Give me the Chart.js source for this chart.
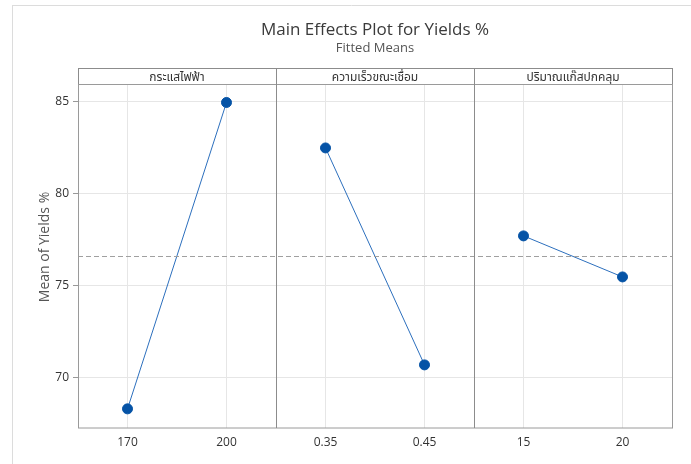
<!DOCTYPE html>
<html>
<head>
<meta charset="utf-8">
<script src="https://cdn.jsdelivr.net/npm/chart.js@4/dist/chart.umd.min.js"></script>
<style>
html,body{margin:0;padding:0;background:#fff;}
#wrap{position:relative;width:691px;height:464px;}
</style>
</head>
<body>
<div id="wrap"><canvas id="c" width="691" height="464"></canvas></div>
<script>
// ---- data ----
const titleText = "Main Effects Plot for Yields %";
const subtitleText = "Fitted Means";
const yAxisTitle = "Mean of Yields %";
const factorNames = ["กระแสไฟฟ้า", "ความเร็วขณะเชื่อม", "ปริมาณแก๊สปกคลุม"];
const levelLabels = ["170", "200", "0.35", "0.45", "15", "20"];
const currentMeans = [68.32, 84.97];
const speedMeans = [82.50, 70.71];
const gasMeans = [77.72, 75.49];
const overallMean = 76.62;
const yTicks = [70, 75, 80, 85];
const yMin = 67.28, yMax = 85.92;

const FONT = "'Open Sans','Noto Sans','Noto Sans Thai','DejaVu Sans',sans-serif";

function pad(vals, offset) {
  const arr = new Array(levelLabels.length).fill(null);
  vals.forEach((v, i) => arr[offset + i] = v);
  return arr;
}
const seriesList = [currentMeans, speedMeans, gasMeans];
const datasets = seriesList.map((s, k) => ({
  label: factorNames[k],
  data: pad(s, k * 2),
  borderColor: '#2c6fbd',
  borderWidth: 1,
  backgroundColor: '#0553a6',
  pointBackgroundColor: '#0553a6',
  pointBorderColor: '#0553a6',
  pointRadius: 5,
  pointHoverRadius: 5,
  spanGaps: false,
  tension: 0
}));

const decor = {
  id: 'decor',
  beforeDraw(chart) {
    const ctx = chart.ctx;
    ctx.save();
    ctx.strokeStyle = '#dcdcdc';
    ctx.lineWidth = 1;
    ctx.beginPath();
    ctx.moveTo(12, 5.5); ctx.lineTo(691, 5.5);
    ctx.moveTo(12.5, 5); ctx.lineTo(12.5, 464);
    ctx.stroke();
    ctx.restore();
  },
  afterDatasetsDraw(chart) {
    const ctx = chart.ctx;
    const a = chart.chartArea;
    const ys = chart.scales.y;
    ctx.save();
    const ym = Math.round(ys.getPixelForValue(overallMean)) + 0.5;
    ctx.setLineDash([5, 3]);
    ctx.strokeStyle = '#a0a0a0';
    ctx.lineWidth = 1;
    ctx.beginPath(); ctx.moveTo(a.left, ym); ctx.lineTo(a.right, ym); ctx.stroke();
    ctx.setLineDash([]);
    ctx.restore();
  },
  afterDraw(chart) {
    const ctx = chart.ctx;
    const a = chart.chartArea;
    const n = factorNames.length;
    const pw = (a.right - a.left) / n;
    ctx.save();
    const hTop = 68.5, hBot = Math.round(a.top) - 0.5;
    ctx.strokeStyle = '#8c8c8c';
    ctx.lineWidth = 1;
    ctx.strokeRect(Math.round(a.left) + 0.5, hTop, Math.round(a.right) - Math.round(a.left), hBot - hTop);
    ctx.strokeStyle = '#9a9a9a';
    ctx.strokeRect(Math.round(a.left) + 0.5, hBot, Math.round(a.right) - Math.round(a.left), Math.round(a.bottom) - hBot);
    ctx.strokeStyle = '#8c8c8c';
    for (let k = 1; k < n; k++) {
      const x = Math.round(a.left + pw * k) + 0.5;
      ctx.beginPath(); ctx.moveTo(x, hTop); ctx.lineTo(x, a.bottom); ctx.stroke();
    }
    ctx.fillStyle = '#333';
    ctx.font = "12px " + FONT;
    ctx.textAlign = 'center';
    ctx.textBaseline = 'middle';
    for (let k = 0; k < n; k++) {
      ctx.fillText(factorNames[k], a.left + pw * (k + 0.5), (hTop + hBot) / 2 + 1);
    }
    const cx = (a.left + a.right) / 2;
    ctx.fillStyle = '#3a3a3a';
    ctx.font = "17px " + FONT;
    ctx.fillText(titleText, cx, 30);
    ctx.fillStyle = '#555';
    ctx.font = "13px " + FONT;
    ctx.fillText(subtitleText, cx, 48);
    ctx.translate(45, 247);
    ctx.rotate(-Math.PI / 2);
    ctx.fillStyle = '#555';
    ctx.font = "14px " + FONT;
    ctx.fillText(yAxisTitle, 0, 0);
    ctx.restore();
  }
};

new Chart(document.getElementById('c'), {
  type: 'line',
  data: { labels: levelLabels, datasets },
  options: {
    responsive: false,
    animation: false,
    events: [],
    layout: { padding: { top: 85, right: 19, bottom: 0, left: 0 } },
    plugins: { legend: { display: false }, tooltip: { enabled: false }, title: { display: false } },
    scales: {
      x: {
        type: 'category',
        offset: true,
        border: { display: false },
        grid: { color: '#e6e6e6', drawTicks: false, offset: false },
        ticks: { color: '#333', font: { family: FONT, size: 12 }, padding: 7, maxRotation: 0, autoSkip: false },
        afterFit(s) { s.height = 36; }
      },
      y: {
        min: yMin, max: yMax,
        border: { display: false },
        grid: { color: '#e6e6e6', tickColor: '#999', tickLength: 5 },
        afterBuildTicks(s) { s.ticks = yTicks.map(v => ({ value: v })); },
        ticks: { color: '#333', font: { family: FONT, size: 12 }, padding: 4 },
        afterFit(s) { s.width = 78; }
      }
    }
  },
  plugins: [decor]
});
</script>
</body>
</html>
